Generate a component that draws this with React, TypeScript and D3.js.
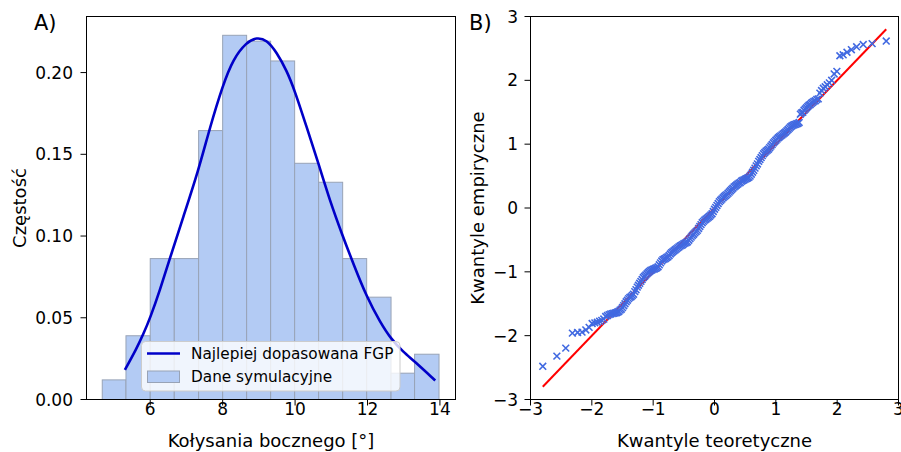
import React from "react";
import * as d3 from "d3";

// ---------- Panel A: histogram + fitted PDF ----------
const binEdges = [4.675, 5.33, 6.0, 6.664, 7.336, 8.0, 8.662, 9.325, 9.988, 10.65, 11.314, 11.977, 12.65, 13.30, 13.975];
const binDensity = [0.012, 0.039, 0.0862, 0.0862, 0.1645, 0.2228, 0.2192, 0.2071, 0.1445, 0.1329, 0.0862, 0.0626, 0.0161, 0.0277];

const pdfX = [5.30, 5.62, 5.81, 6.0, 6.27, 6.54, 6.91, 7.33, 7.65, 8.0, 8.29, 8.66, 8.94, 9.22, 9.49, 9.77, 9.99, 10.32, 10.65, 10.96, 11.31, 11.61, 11.98, 12.35, 12.65, 12.99, 13.29, 13.87];
const pdfY = [0.0181, 0.031, 0.040, 0.050, 0.067, 0.0862, 0.1115, 0.140, 0.1666, 0.192, 0.2084, 0.2186, 0.2216, 0.220, 0.2124, 0.2012, 0.189, 0.1666, 0.1441, 0.1217, 0.1003, 0.083, 0.0626, 0.0473, 0.037, 0.029, 0.0235, 0.0116];

const histTicksX = [6, 8, 10, 12, 14];
const histTicksY = [0, 0.05, 0.1, 0.15, 0.2];

// ---------- Panel B: Q-Q plot  [theoretical, empirical] ----------
const qqPoints: [number, number][] = [
  [-2.80, -2.48], [-2.57, -2.32], [-2.425, -2.195], [-2.317, -1.96], [-2.232, -1.95], [-2.16, -1.945], [-2.098, -1.91],
  [-2.044, -1.87], [-1.995, -1.81], [-1.951, -1.80], [-1.91, -1.79], [-1.873, -1.775], [-1.838, -1.76], [-1.805, -1.74],
  [-1.774, -1.70], [-1.745, -1.685], [-1.718, -1.67], [-1.692, -1.66], [-1.667, -1.655], [-1.643, -1.65], [-1.62, -1.645],
  [-1.60, -1.64], [-1.58, -1.63], [-1.56, -1.62], [-1.54, -1.60], [-1.52, -1.585], [-1.50, -1.56], [-1.48, -1.53],
  [-1.46, -1.50], [-1.44, -1.47], [-1.42, -1.445], [-1.40, -1.42], [-1.38, -1.40], [-1.36, -1.39], [-1.34, -1.37],
  [-1.32, -1.35], [-1.30, -1.31], [-1.28, -1.28], [-1.26, -1.24], [-1.24, -1.21], [-1.22, -1.18], [-1.20, -1.15],
  [-1.18, -1.12], [-1.16, -1.09], [-1.14, -1.07], [-1.12, -1.05], [-1.10, -1.03], [-1.08, -1.01], [-1.06, -0.995],
  [-1.04, -0.98], [-1.02, -0.97], [-1.00, -0.96], [-0.98, -0.955], [-0.96, -0.945], [-0.94, -0.935], [-0.92, -0.92],
  [-0.90, -0.89], [-0.88, -0.86], [-0.86, -0.83], [-0.84, -0.81], [-0.82, -0.80], [-0.80, -0.79], [-0.78, -0.775],
  [-0.76, -0.765], [-0.74, -0.745], [-0.72, -0.72], [-0.70, -0.70], [-0.68, -0.685], [-0.66, -0.67], [-0.64, -0.655],
  [-0.62, -0.64], [-0.60, -0.625], [-0.58, -0.61], [-0.56, -0.595], [-0.54, -0.585], [-0.52, -0.575], [-0.50, -0.56],
  [-0.48, -0.55], [-0.46, -0.54], [-0.44, -0.53], [-0.42, -0.505], [-0.40, -0.48], [-0.38, -0.455], [-0.36, -0.43],
  [-0.34, -0.41], [-0.32, -0.39], [-0.30, -0.37], [-0.28, -0.35], [-0.26, -0.32], [-0.24, -0.29], [-0.22, -0.26],
  [-0.20, -0.23], [-0.18, -0.21], [-0.16, -0.19], [-0.14, -0.175], [-0.12, -0.16], [-0.10, -0.145], [-0.08, -0.13],
  [-0.06, -0.11], [-0.04, -0.09], [-0.02, -0.055], [0.00, -0.02], [0.02, 0.01], [0.04, 0.04], [0.06, 0.07],
  [0.08, 0.10], [0.10, 0.12], [0.12, 0.14], [0.14, 0.16], [0.16, 0.18], [0.18, 0.195], [0.20, 0.21],
  [0.22, 0.23], [0.24, 0.25], [0.26, 0.27], [0.28, 0.29], [0.30, 0.31], [0.32, 0.33], [0.34, 0.345],
  [0.36, 0.36], [0.38, 0.375], [0.40, 0.39], [0.42, 0.40], [0.44, 0.42], [0.46, 0.43], [0.48, 0.44],
  [0.50, 0.45], [0.52, 0.46], [0.54, 0.47], [0.56, 0.48], [0.58, 0.50], [0.60, 0.53], [0.62, 0.56],
  [0.64, 0.59], [0.66, 0.625], [0.68, 0.66], [0.70, 0.69], [0.72, 0.73], [0.74, 0.76], [0.76, 0.79],
  [0.78, 0.82], [0.80, 0.85], [0.82, 0.87], [0.84, 0.89], [0.86, 0.905], [0.88, 0.92], [0.90, 0.945],
  [0.92, 0.97], [0.94, 0.995], [0.96, 1.02], [0.98, 1.04], [1.00, 1.06], [1.02, 1.08], [1.04, 1.10],
  [1.06, 1.115], [1.08, 1.13], [1.10, 1.145], [1.12, 1.16], [1.14, 1.175], [1.16, 1.19], [1.18, 1.21],
  [1.20, 1.23], [1.22, 1.25], [1.24, 1.27], [1.26, 1.285], [1.28, 1.295], [1.30, 1.305], [1.32, 1.31],
  [1.34, 1.32], [1.36, 1.325], [1.38, 1.34], [1.40, 1.47], [1.42, 1.49], [1.44, 1.50], [1.46, 1.53],
  [1.48, 1.55], [1.50, 1.57], [1.52, 1.59], [1.54, 1.61], [1.56, 1.62], [1.58, 1.64], [1.60, 1.655],
  [1.62, 1.67], [1.643, 1.68], [1.667, 1.70], [1.692, 1.71], [1.718, 1.80], [1.745, 1.84], [1.774, 1.875],
  [1.805, 1.90], [1.838, 1.93], [1.873, 1.96], [1.91, 2.00], [1.951, 2.10], [1.995, 2.14], [2.044, 2.385],
  [2.098, 2.40], [2.16, 2.44], [2.232, 2.48], [2.317, 2.525], [2.425, 2.56], [2.57, 2.575], [2.80, 2.615],
];
const refLine = [-2.8, 2.8];
const qqTicks = [-3, -2, -1, 0, 1, 2, 3];

const FONT = "DejaVu Sans";
const fmtMinus = (v: number) => (v < 0 ? "\u2212" + Math.abs(v) : String(v));

export default function App() {
  const W = 901, H = 452;
  const L = { x0: 86.5, x1: 455.5, y0: 16.5, y1: 399.5 };
  const R = { x0: 530.5, x1: 898.5, y0: 16.5, y1: 399.5 };

  const xh = d3.scaleLinear().domain([4.24, 14.43]).range([L.x0, L.x1]);
  const yh = d3.scaleLinear().domain([0, 0.2343]).range([L.y1, L.y0]);
  const xq = d3.scaleLinear().domain([-3, 3]).range([R.x0, R.x1]);
  const yq = d3.scaleLinear().domain([-3, 3]).range([R.y1, R.y0]);

  const pdfLine = d3
    .line<number>()
    .x((_, i) => xh(pdfX[i]))
    .y((d) => yh(d))
    .curve(d3.curveBasis);

  const tickLen = 6;
  const tickFs = 17;
  const labelFs = 18;
  const legFs = 15.3;
  const ms = 3.4;

  return (
    <svg width={W} height={H} style={{ position: "absolute", left: 0, top: 0, background: "#fff" }} fontFamily={FONT}>
      {/* ---------- Panel A ---------- */}
      <g>
        {binDensity.map((d, i) => (
          <rect
            key={i}
            x={xh(binEdges[i])}
            y={yh(d)}
            width={xh(binEdges[i + 1]) - xh(binEdges[i])}
            height={yh(0) - yh(d)}
            fill="#b3cbf4"
            stroke="#98a3b6"
            strokeWidth={1}
          />
        ))}
        <path d={pdfLine(pdfY) || ""} fill="none" stroke="#0000c8" strokeWidth={2.6} />
        <rect x={L.x0} y={L.y0} width={L.x1 - L.x0} height={L.y1 - L.y0} fill="none" stroke="#000" strokeWidth={1} />
        {histTicksX.map((t) => (
          <g key={t}>
            <line x1={xh(t)} x2={xh(t)} y1={L.y1} y2={L.y1 + tickLen} stroke="#000" />
            <text x={xh(t)} y={415} fontSize={tickFs} textAnchor="middle" fill="#000">{t}</text>
          </g>
        ))}
        {histTicksY.map((t) => (
          <g key={t}>
            <line x1={L.x0 - tickLen} x2={L.x0} y1={yh(t)} y2={yh(t)} stroke="#000" />
            <text x={73} y={yh(t)} dy="0.36em" fontSize={tickFs} textAnchor="end" fill="#000">{t.toFixed(2)}</text>
          </g>
        ))}
        <text x={(L.x0 + L.x1) / 2} y={447} fontSize={labelFs} textAnchor="middle" fill="#000">Kołysania bocznego [°]</text>
        <text transform={`translate(26,${(L.y0 + L.y1) / 2}) rotate(-90)`} fontSize={labelFs} textAnchor="middle" fill="#000">Częstość</text>
        <text x={34} y={30} fontSize={21} fill="#000">A)</text>

        {/* legend */}
        <rect x={141.5} y={341.5} width={258.5} height={49.5} rx={4} fill="#fff" fillOpacity={0.8} stroke="#cccccc" strokeWidth={1} />
        <line x1={147} x2={180} y1={353.5} y2={353.5} stroke="#0000c8" strokeWidth={2.6} />
        <text x={191} y={353.5} dy="0.36em" fontSize={legFs} fill="#000">Najlepiej dopasowana FGP</text>
        <rect x={147.5} y={371} width={32} height={11.5} fill="#b3cbf4" stroke="#98a3b6" strokeWidth={1} />
        <text x={191} y={376.5} dy="0.36em" fontSize={legFs} fill="#000">Dane symulacyjne</text>
      </g>

      {/* ---------- Panel B ---------- */}
      <g>
        <line x1={xq(refLine[0])} y1={yq(refLine[0])} x2={xq(refLine[1])} y2={yq(refLine[1])} stroke="#ff0000" strokeWidth={2} />
        {qqPoints.map(([t, e], i) => {
          const cx = xq(t), cy = yq(e);
          return (
            <path
              key={i}
              d={`M${cx - ms},${cy - ms}L${cx + ms},${cy + ms}M${cx - ms},${cy + ms}L${cx + ms},${cy - ms}`}
              stroke="#4169e1"
              strokeWidth={1.6}
              fill="none"
            />
          );
        })}
        <rect x={R.x0} y={R.y0} width={R.x1 - R.x0} height={R.y1 - R.y0} fill="none" stroke="#000" strokeWidth={1} />
        {qqTicks.map((t) => (
          <g key={"x" + t}>
            <line x1={xq(t)} x2={xq(t)} y1={R.y1} y2={R.y1 + tickLen} stroke="#000" />
            <text x={xq(t)} y={415} fontSize={tickFs} textAnchor="middle" fill="#000">{fmtMinus(t)}</text>
          </g>
        ))}
        {qqTicks.map((t) => (
          <g key={"y" + t}>
            <line x1={R.x0 - tickLen} x2={R.x0} y1={yq(t)} y2={yq(t)} stroke="#000" />
            <text x={R.x0 - 12.5} y={yq(t)} dy="0.36em" fontSize={tickFs} textAnchor="end" fill="#000">{fmtMinus(t)}</text>
          </g>
        ))}
        <text x={(R.x0 + R.x1) / 2} y={447} fontSize={labelFs} textAnchor="middle" fill="#000">Kwantyle teoretyczne</text>
        <text transform={`translate(484,${(R.y0 + R.y1) / 2}) rotate(-90)`} fontSize={labelFs} textAnchor="middle" fill="#000">Kwantyle empiryczne</text>
        <text x={469} y={30} fontSize={21} fill="#000">B)</text>
      </g>
    </svg>
  );
}
